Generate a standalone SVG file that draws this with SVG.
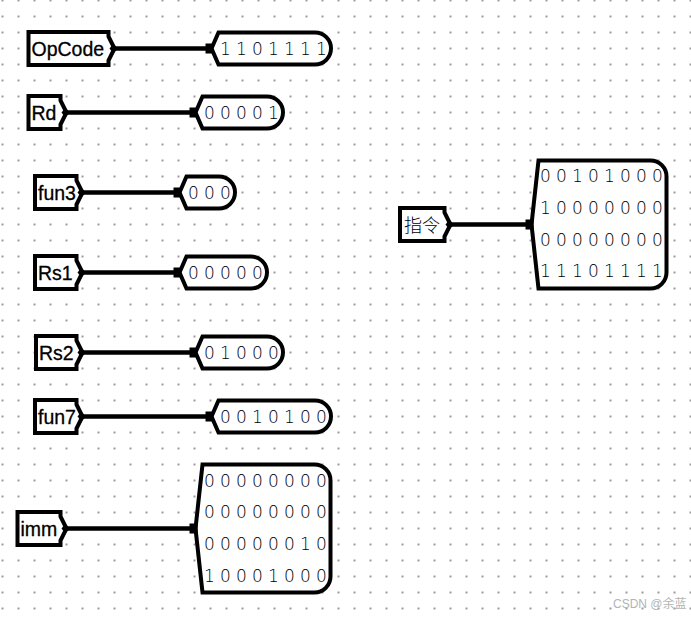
<svg xmlns="http://www.w3.org/2000/svg" width="691" height="617" viewBox="0 0 691 617">
<defs>
<pattern id="grid" x="1.5" y="-0.5" width="16" height="16" patternUnits="userSpaceOnUse">
<rect x="0" y="0" width="2" height="2" fill="#9a9a9a"/>
</pattern>
<style>
.sh{fill:#fff;stroke:#000;stroke-width:4;stroke-linejoin:miter;stroke-miterlimit:10}
.w{stroke:#000;stroke-width:4.5;fill:none}
.pin{fill:#000}
.lbl{font-family:"Liberation Sans",Arial,sans-serif;font-size:19.5px;fill:#000;stroke:#000;stroke-width:0.3}
.cjk{font-family:"Noto Sans CJK SC","Liberation Sans",sans-serif;font-size:18px;font-weight:300;fill:#000}
.dg{font-family:"DejaVu Sans",sans-serif;font-weight:200;font-size:17px;text-anchor:middle;fill:#000}
.wm{font-family:"Liberation Sans","Noto Sans CJK SC",sans-serif;font-size:12px;fill:#b4b4b4}
</style>
</defs>
<rect width="691" height="617" fill="#fff"/>
<rect width="691" height="617" fill="url(#grid)"/>

<g id="connectors">
<line class="w" x1="114.5" y1="48.5" x2="208" y2="48.5"/>
<line class="w" x1="66.5" y1="112.5" x2="192" y2="112.5"/>
<line class="w" x1="82.5" y1="192.5" x2="176" y2="192.5"/>
<line class="w" x1="82.5" y1="272.5" x2="176" y2="272.5"/>
<line class="w" x1="82.5" y1="352.5" x2="192" y2="352.5"/>
<line class="w" x1="82.5" y1="416.5" x2="208" y2="416.5"/>
<line class="w" x1="66.5" y1="528.5" x2="192" y2="528.5"/>
<line class="w" x1="450.5" y1="224.5" x2="528" y2="224.5"/>
</g>

<g id="tun-opcode">
<path class="sh" d="M28.5,32 H108.5 V36.5 L114.5,48.5 L108.5,60.5 V65 H28.5 Z"/>
<path class="pin" d="M109.5,48.5 L113.5,43.5 L117.5,48.5 L113.5,53.5 Z"/>
<text class="lbl" x="31.5" y="55.5">OpCode</text>
</g>
<g id="probe-opcode">
<path class="sh" d="M211.5,48.5 L218.5,32.5 H315 A16,16 0 0 1 315,64.5 H218.5 Z"/>
<rect class="pin" x="205.5" y="43.5" width="8" height="10"/>
<text class="dg" x="225.5 233.5 241.5 249.5 257.5 265.5 273.5 281.5 289.5 297.5 305.5 313.5 321.5" y="55">1 1 0 1 1 1 1</text>
</g>

<g id="tun-rd">
<path class="sh" d="M28.5,96 H60.5 V100.5 L66.5,112.5 L60.5,124.5 V129 H28.5 Z"/>
<path class="pin" d="M61.5,112.5 L65.5,107.5 L69.5,112.5 L65.5,117.5 Z"/>
<text class="lbl" x="31.5" y="119.5">Rd</text>
</g>
<g id="probe-rd">
<path class="sh" d="M195.5,112.5 L202.5,96.5 H267 A16,16 0 0 1 267,128.5 H202.5 Z"/>
<rect class="pin" x="189.5" y="107.5" width="8" height="10"/>
<text class="dg" x="209.5 217.5 225.5 233.5 241.5 249.5 257.5 265.5 273.5" y="119">0 0 0 0 1</text>
</g>

<g id="tun-fun3">
<path class="sh" d="M35,176 H76.5 V180.5 L82.5,192.5 L76.5,204.5 V209 H35 Z"/>
<path class="pin" d="M77.5,192.5 L81.5,187.5 L85.5,192.5 L81.5,197.5 Z"/>
<text class="lbl" x="38" y="199.5">fun3</text>
</g>
<g id="probe-fun3">
<path class="sh" d="M179.5,192.5 L186.5,176.5 H219 A16,16 0 0 1 219,208.5 H186.5 Z"/>
<rect class="pin" x="173.5" y="187.5" width="8" height="10"/>
<text class="dg" x="193.5 201.5 209.5 217.5 225.5" y="199">0 0 0</text>
</g>

<g id="tun-rs1">
<path class="sh" d="M35,256 H76.5 V260.5 L82.5,272.5 L76.5,284.5 V289 H35 Z"/>
<path class="pin" d="M77.5,272.5 L81.5,267.5 L85.5,272.5 L81.5,277.5 Z"/>
<text class="lbl" x="38" y="279.5">Rs1</text>
</g>
<g id="probe-rs1">
<path class="sh" d="M179.5,272.5 L186.5,256.5 H251 A16,16 0 0 1 251,288.5 H186.5 Z"/>
<rect class="pin" x="173.5" y="267.5" width="8" height="10"/>
<text class="dg" x="193.5 201.5 209.5 217.5 225.5 233.5 241.5 249.5 257.5" y="279">0 0 0 0 0</text>
</g>

<g id="tun-rs2">
<path class="sh" d="M36,336 H76.5 V340.5 L82.5,352.5 L76.5,364.5 V369 H36 Z"/>
<path class="pin" d="M77.5,352.5 L81.5,347.5 L85.5,352.5 L81.5,357.5 Z"/>
<text class="lbl" x="39" y="359.5">Rs2</text>
</g>
<g id="probe-rs2">
<path class="sh" d="M195.5,352.5 L202.5,336.5 H267 A16,16 0 0 1 267,368.5 H202.5 Z"/>
<rect class="pin" x="189.5" y="347.5" width="8" height="10"/>
<text class="dg" x="209.5 217.5 225.5 233.5 241.5 249.5 257.5 265.5 273.5" y="359">0 1 0 0 0</text>
</g>

<g id="tun-fun7">
<path class="sh" d="M35,400 H76.5 V404.5 L82.5,416.5 L76.5,428.5 V433 H35 Z"/>
<path class="pin" d="M77.5,416.5 L81.5,411.5 L85.5,416.5 L81.5,421.5 Z"/>
<text class="lbl" x="38" y="423.5">fun7</text>
</g>
<g id="probe-fun7">
<path class="sh" d="M211.5,416.5 L218.5,400.5 H315 A16,16 0 0 1 315,432.5 H218.5 Z"/>
<rect class="pin" x="205.5" y="411.5" width="8" height="10"/>
<text class="dg" x="225.5 233.5 241.5 249.5 257.5 265.5 273.5 281.5 289.5 297.5 305.5 313.5 321.5" y="423">0 0 1 0 1 0 0</text>
</g>

<g id="tun-imm">
<path class="sh" d="M17.5,512 H60.5 V516.5 L66.5,528.5 L60.5,540.5 V545 H17.5 Z"/>
<path class="pin" d="M61.5,528.5 L65.5,523.5 L69.5,528.5 L65.5,533.5 Z"/>
<text class="lbl" x="20.5" y="535.5">imm</text>
</g>
<g id="probe-imm">
<path class="sh" d="M195.5,528.5 L202.5,464.5 H314.5 A16,16 0 0 1 330.5,480.5 V576.5 A16,16 0 0 1 314.5,592.5 H202.5 Z"/>
<rect class="pin" x="189.5" y="523.5" width="8" height="10"/>
<text class="dg" x="209.5 217.5 225.5 233.5 241.5 249.5 257.5 265.5 273.5 281.5 289.5 297.5 305.5 313.5 321.5" y="486.5">0 0 0 0 0 0 0 0</text>
<text class="dg" x="209.5 217.5 225.5 233.5 241.5 249.5 257.5 265.5 273.5 281.5 289.5 297.5 305.5 313.5 321.5" y="518.2">0 0 0 0 0 0 0 0</text>
<text class="dg" x="209.5 217.5 225.5 233.5 241.5 249.5 257.5 265.5 273.5 281.5 289.5 297.5 305.5 313.5 321.5" y="549.9">0 0 0 0 0 0 1 0</text>
<text class="dg" x="209.5 217.5 225.5 233.5 241.5 249.5 257.5 265.5 273.5 281.5 289.5 297.5 305.5 313.5 321.5" y="581.6">1 0 0 0 1 0 0 0</text>
</g>

<g id="tun-instr">
<path class="sh" d="M400,208 H444.5 V212.5 L450.5,224.5 L444.5,236.5 V241 H400 Z"/>
<path class="pin" d="M445.5,224.5 L449.5,219.5 L453.5,224.5 L449.5,229.5 Z"/>
<text class="cjk" x="404" y="231.5">指令</text>
</g>
<g id="probe-instr">
<path class="sh" d="M531.5,224.5 L538.5,160.5 H650.5 A16,16 0 0 1 666.5,176.5 V272.5 A16,16 0 0 1 650.5,288.5 H538.5 Z"/>
<rect class="pin" x="525.5" y="219.5" width="8" height="10"/>
<text class="dg" x="545.5 553.5 561.5 569.5 577.5 585.5 593.5 601.5 609.5 617.5 625.5 633.5 641.5 649.5 657.5" y="182.2">0 0 1 0 1 0 0 0</text>
<text class="dg" x="545.5 553.5 561.5 569.5 577.5 585.5 593.5 601.5 609.5 617.5 625.5 633.5 641.5 649.5 657.5" y="213.9">1 0 0 0 0 0 0 0</text>
<text class="dg" x="545.5 553.5 561.5 569.5 577.5 585.5 593.5 601.5 609.5 617.5 625.5 633.5 641.5 649.5 657.5" y="245.6">0 0 0 0 0 0 0 0</text>
<text class="dg" x="545.5 553.5 561.5 569.5 577.5 585.5 593.5 601.5 609.5 617.5 625.5 633.5 641.5 649.5 657.5" y="277.3">1 1 1 0 1 1 1 1</text>
</g>

<text class="wm" x="613" y="608">CSDN @余蓝</text>
</svg>
